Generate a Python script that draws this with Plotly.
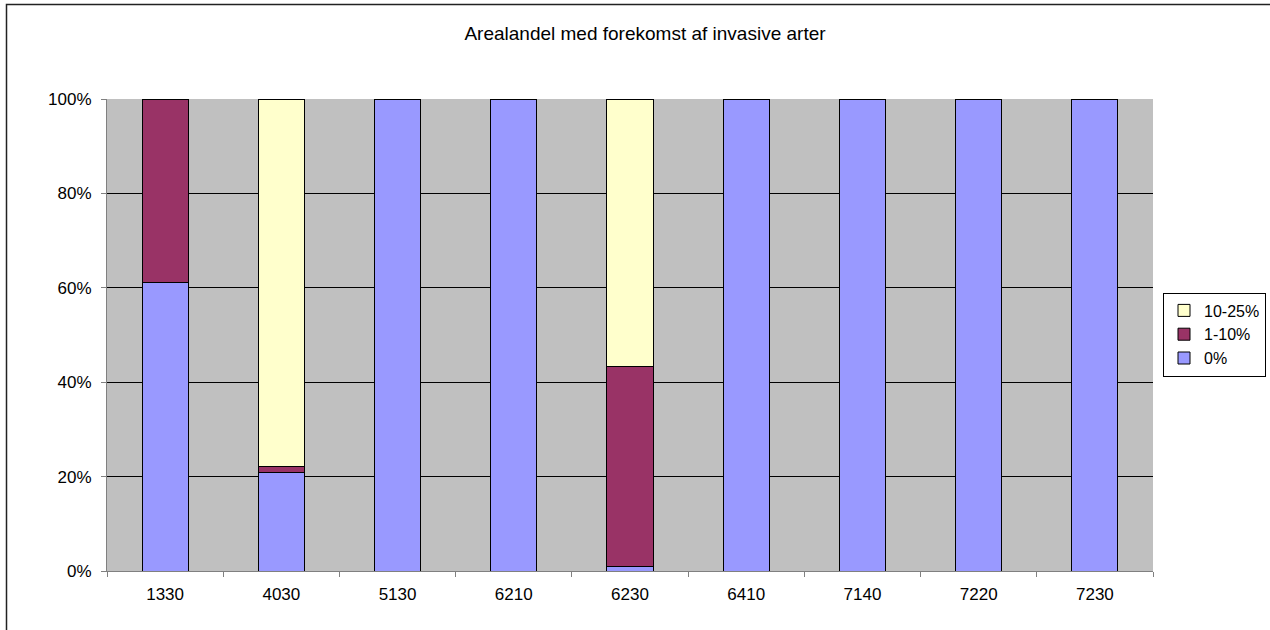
import plotly.graph_objects as go

categories = ["1330", "4030", "5130", "6210", "6230", "6410", "7140", "7220", "7230"]
s_0 = [61.1, 20.8, 100, 100, 0.9, 100, 100, 100, 100]
s_1_10 = [38.9, 1.3, 0, 0, 42.5, 0, 0, 0, 0]
s_10_25 = [0, 77.9, 0, 0, 56.6, 0, 0, 0, 0]
y_ticks = [0, 20, 40, 60, 80, 100]
y_tick_labels = ["0%", "20%", "40%", "60%", "80%", "100%"]

W, H = 1270, 630
L, R, T, B = 107, 1153, 99, 571
pw, ph = R - L, B - T

fig = go.Figure()
for name, vals, col in [("0%", s_0, "#9999FF"), ("1-10%", s_1_10, "#993366"), ("10-25%", s_10_25, "#FFFFCC")]:
    fig.add_trace(go.Bar(x=categories, y=vals, name=name, legendgroup=name,
                         marker=dict(color=col, line=dict(color="black", width=1))))

fig.update_layout(
    barmode="stack", bargap=0.604,
    width=W, height=H,
    margin=dict(l=L, r=W - R, t=T, b=H - B, autoexpand=False),
    paper_bgcolor="white", plot_bgcolor="#C0C0C0",
    font=dict(family="Liberation Sans, Arial, sans-serif", size=17, color="black"),
    title=dict(text="Arealandel med forekomst af invasive arter", x=645 / W,
               xanchor="center", y=1 - 33 / H, yanchor="middle", font=dict(size=19)),
    legend=dict(x=(1266 - L) / pw, xanchor="right", y=(B - 334.5) / ph, yanchor="middle",
                traceorder="reversed", bordercolor="black", borderwidth=1, bgcolor="white",
                font=dict(size=16), tracegroupgap=12, itemwidth=30),
    showlegend=True,
)
fig.update_xaxes(type="category", ticks="outside", tickson="boundaries", ticklen=5,
                 tickcolor="#808080", showline=True, linecolor="#808080", linewidth=1,
                 showgrid=False, ticklabelstandoff=8)
fig.update_yaxes(range=[0, 100], tickvals=y_ticks, ticktext=y_tick_labels, ticks="outside",
                 ticklen=5, tickcolor="#808080", showline=True, linecolor="#808080", linewidth=1,
                 showgrid=True, gridcolor="black", gridwidth=1, zeroline=False,
                 ticklabelstandoff=6)
fig.add_shape(type="rect", xref="paper", yref="paper",
              x0=(6.5 - L) / pw, x1=(W + 20 - L) / pw,
              y0=-(H + 20 - B) / ph, y1=(B - 4.5) / ph,
              line=dict(color="#222222", width=1.5), fillcolor="rgba(0,0,0,0)", layer="below")
fig.write_html("out.html", config={"displayModeBar": False})

with open("out.html", "r", encoding="utf-8") as f:
    html = f.read()
html = html.replace("<head>", "<head><style>html,body{margin:0;padding:0;overflow:hidden;}</style>", 1)
with open("out.html", "w", encoding="utf-8") as f:
    f.write(html)
